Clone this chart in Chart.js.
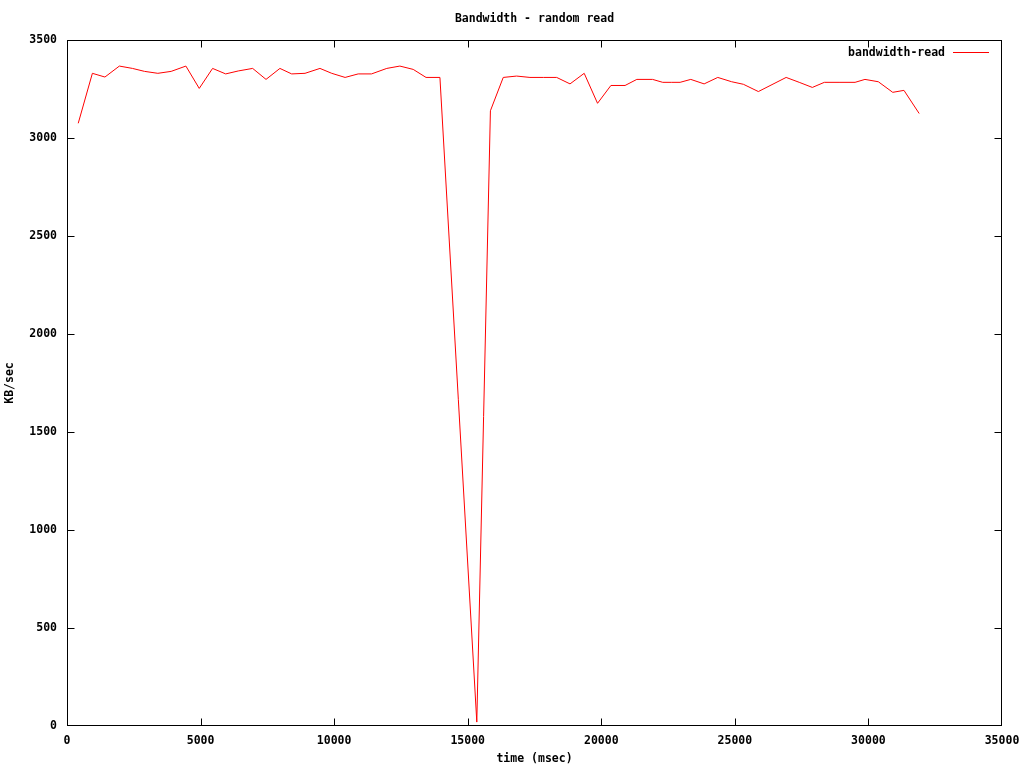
<!DOCTYPE html>
<html>
<head>
<meta charset="utf-8">
<title>Bandwidth - random read</title>
<script src="https://cdn.jsdelivr.net/npm/chart.js@4.4.1/dist/chart.umd.min.js"></script>
<style>
    html, body { margin: 0; padding: 0; background: #ffffff; }
    #chart { display: block; }
</style>
</head>
<body>
<canvas id="chart" width="1024" height="768"></canvas>
<script>
// ---------------- DATA ----------------

const chartTitle = "Bandwidth - random read";
const seriesLabel = "bandwidth-read";

const timeMs = [
    420, 950, 1420, 1960, 2450, 2900, 3400, 3900, 4450, 4950,
    5450, 5940, 6410, 6950, 7450, 7970, 8410, 8910, 9470, 9910,
    10410, 10900, 11400, 11970, 12460, 12960, 13440, 13960, 15340, 15850,
    16330, 16830, 17330, 17830, 18330, 18830, 19360, 19860, 20360, 20890,
    21330, 21920, 22300, 22620, 22950, 23350, 23850, 24360, 24880, 25320,
    25880, 26920, 27410, 27900, 28350, 28900, 29500, 29870, 30370, 30910,
    31330, 31900
];

const bandwidthKB = [
    3075, 3330, 3311, 3367, 3355, 3340, 3330, 3340, 3367, 3253,
    3355, 3327, 3342, 3355, 3299, 3355, 3327, 3330, 3355, 3330,
    3309, 3327, 3327, 3355, 3367, 3350, 3309, 3309, 20, 3139,
    3309, 3316, 3309, 3309, 3309, 3276, 3330, 3177, 3268, 3268,
    3299, 3299, 3284, 3284, 3284, 3299, 3276, 3309, 3287, 3274,
    3237, 3309, 3284, 3258, 3284, 3284, 3284, 3299, 3287, 3233,
    3243, 3125
];

const xTicks = [0, 5000, 10000, 15000, 20000, 25000, 30000, 35000];
const yTicks = [0, 500, 1000, 1500, 2000, 2500, 3000, 3500];

const points = timeMs.map((t, i) => ({ x: t, y: bandwidthKB[i] }));

// ---------------- STYLE ----------------

const monoFont = { family: "'DejaVu Sans Mono', 'Liberation Mono', monospace", size: 11.5, weight: "bold" };
const fontCss = "bold 11.5px 'DejaVu Sans Mono', 'Liberation Mono', monospace";

// frame, inward ticks on all sides, title and legend (gnuplot look)
const gnuplotFrame = {
    id: "gnuplotFrame",
    afterDraw(chart) {
        const ctx = chart.ctx;
        const area = chart.chartArea;
        const xs = chart.scales.x;
        const ys = chart.scales.y;
        const tick = 7;

        // border lines sit on the pixel just inside the chart area
        const L = area.left + 0.5;
        const R = area.right - 0.5;
        const T = area.top + 0.5;
        const B = area.bottom - 0.5;
        const clamp = (v, lo, hi) => Math.min(hi, Math.max(lo, v));

        ctx.save();
        ctx.strokeStyle = "#000000";
        ctx.lineWidth = 1;

        ctx.strokeRect(L, T, R - L, B - T);

        ctx.beginPath();
        xTicks.forEach(v => {
            const px = clamp(Math.round(xs.getPixelForValue(v)) + 0.5, L, R);
            ctx.moveTo(px, B);
            ctx.lineTo(px, B - tick);
            ctx.moveTo(px, T);
            ctx.lineTo(px, T + tick);
        });
        yTicks.forEach(v => {
            const py = clamp(Math.round(ys.getPixelForValue(v)) + 0.5, T, B);
            ctx.moveTo(L, py);
            ctx.lineTo(L + tick, py);
            ctx.moveTo(R, py);
            ctx.lineTo(R - tick, py);
        });
        ctx.stroke();

        // title
        ctx.fillStyle = "#000000";
        ctx.font = fontCss;
        ctx.textAlign = "center";
        ctx.textBaseline = "middle";
        ctx.fillText(chartTitle, (area.left + area.right) / 2, 19);

        // legend: text then line sample
        ctx.textAlign = "right";
        ctx.fillText(seriesLabel, 945, 53);
        ctx.strokeStyle = "#ff0000";
        ctx.beginPath();
        ctx.moveTo(953, 52.5);
        ctx.lineTo(989, 52.5);
        ctx.stroke();

        ctx.restore();
    }
};

// ---------------- LINE CHART ----------------

const canvas = document.getElementById("chart");

new Chart(canvas, {
    type: "line",

    data: {
        datasets: [{
            label: seriesLabel,
            data: points,
            borderColor: "#ff0000",
            borderWidth: 1,
            pointRadius: 0,
            tension: 0,
            fill: false
        }]
    },

    options: {
        responsive: false,
        devicePixelRatio: 1,
        animation: false,
        layout: {
            padding: { top: 40, right: 22, left: 0, bottom: 0 }
        },
        plugins: {
            legend: { display: false },
            title: { display: false },
            tooltip: { enabled: false }
        },
        scales: {
            x: {
                type: "linear",
                min: 0,
                max: 35000,
                afterBuildTicks: scale => { scale.ticks = xTicks.map(v => ({ value: v })); },
                afterFit: scale => {
                    scale.height = 42;
                    scale.paddingLeft = 0;
                    scale.paddingRight = 0;
                },
                grid: { display: false, drawTicks: false },
                border: { display: false },
                ticks: {
                    color: "#000000",
                    font: monoFont,
                    padding: 8,
                    maxRotation: 0,
                    autoSkip: false,
                    callback: value => String(value)
                },
                title: {
                    display: true,
                    text: "time (msec)",
                    color: "#000000",
                    font: monoFont,
                    padding: { top: 0, bottom: 2 }
                }
            },
            y: {
                min: 0,
                max: 3500,
                afterBuildTicks: scale => { scale.ticks = yTicks.map(v => ({ value: v })); },
                afterFit: scale => {
                    scale.width = 67;
                    scale.paddingTop = 0;
                    scale.paddingBottom = 0;
                },
                grid: { display: false, drawTicks: false },
                border: { display: false },
                ticks: {
                    color: "#000000",
                    font: monoFont,
                    padding: 10,
                    autoSkip: false,
                    callback: value => String(value)
                },
                title: {
                    display: true,
                    text: "KB/sec",
                    color: "#000000",
                    font: monoFont,
                    padding: { top: 3, bottom: 0 }
                }
            }
        }
    },

    plugins: [gnuplotFrame]
});
</script>
</body>
</html>
